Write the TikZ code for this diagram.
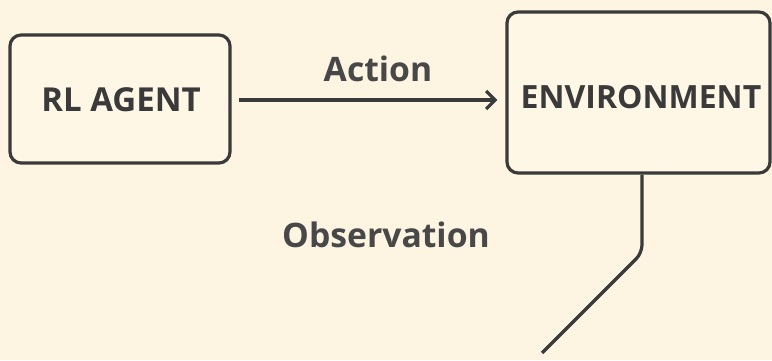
\documentclass[tikz,border=0pt]{standalone}
\usepackage{fontspec}
\setmainfont{Open Sans}
\usetikzlibrary{arrows.meta}
\definecolor{bgcol}{HTML}{FDF5E2}
\definecolor{boxfill}{HTML}{FEF7E6}
\definecolor{ink}{HTML}{3A3A3A}
\definecolor{lblink}{HTML}{484848}
\begin{document}
\begin{tikzpicture}[x=1pt,y=1pt,
  boxstyle/.style={draw=ink, line width=3.2pt, rounded corners=11pt, fill=boxfill, inner sep=0pt},
  boxtext/.style={text=ink, font=\bfseries\fontsize{33}{38}\selectfont, inner sep=0pt},
  conn/.style={draw=ink, line width=3.2pt},
  lbl/.style={text=lblink, font=\bfseries\fontsize{33.7}{38}\selectfont, inner sep=0pt}]
\fill[bgcol] (0,0) rectangle (772,360);
\useasboundingbox (0,0) rectangle (772,360);
\node[boxstyle, minimum width=220pt, minimum height=128pt] (agent) at (120,261) {};
\node[boxtext] (agenttext) at (121,260) {RL AGENT};
\node[boxstyle, minimum width=263pt, minimum height=161pt] (env) at (638.5,267.5) {};
\node[boxtext, font=\bfseries\fontsize{32}{37}\selectfont] (envtext) at (641,262.5) {ENVIRONMENT};
\draw[conn, -{Straight Barb[length=9pt,width=18pt,line width=3.2pt]}] ([xshift=7pt]agent.east |- 0,260) -- ([xshift=-8pt]env.west |- 0,260);
\node[lbl] (action) at (378,291) {Action};
\node[lbl] (obs) at (386,125) {Observation};
\coordinate (end) at (542,7);
\draw[conn, rounded corners=8pt] (env.south -| 642,0) -- (642,107) -- (end);
\end{tikzpicture}
\end{document}
